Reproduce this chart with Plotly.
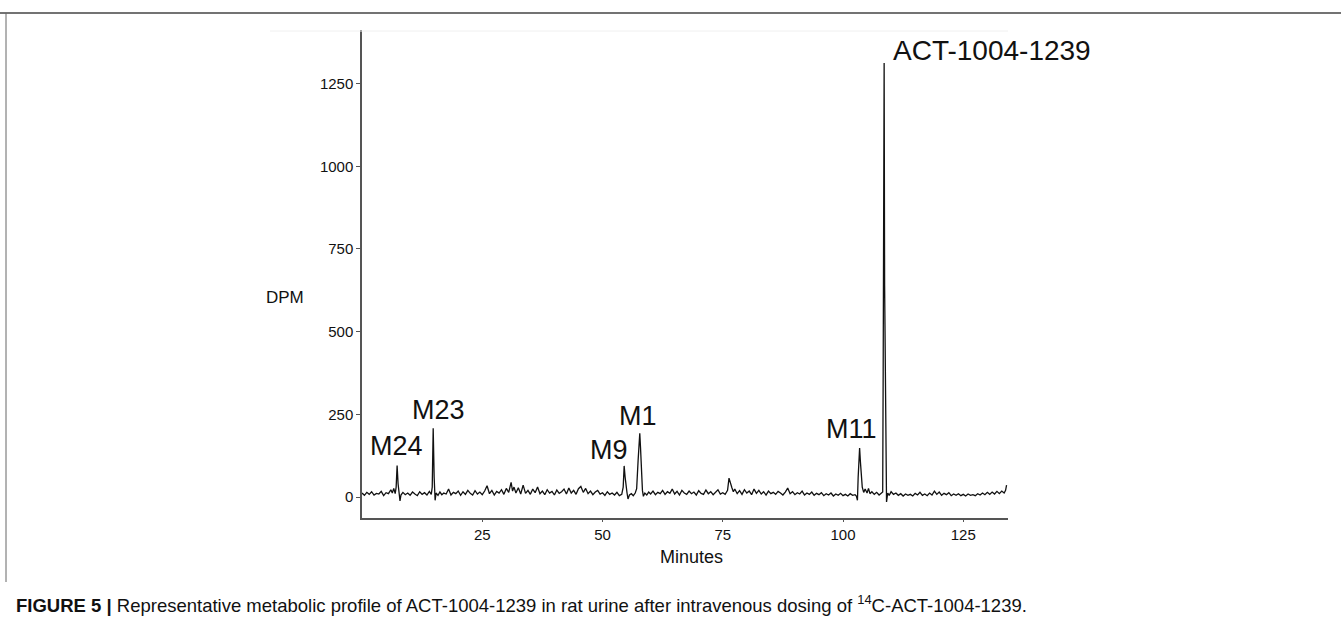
import plotly.graph_objects as go

# ---- data ----
time_min = [
    0.0, 0.5, 1.0, 1.5, 2.0, 2.5, 3.0, 3.5, 4.0, 4.5, 5.0, 5.5, 6.0, 6.3, 6.6, 6.9, 7.1, 7.3, 7.5, 7.7, 7.9, 8.1, 8.5, 9.0, 9.5,
    10.0, 10.5, 11.0, 11.5, 12.0, 12.5, 13.0, 13.5, 14.0, 14.4, 14.6, 14.8, 15.0, 15.2, 15.4, 15.8, 16.2, 16.6, 17.0, 17.5, 18.0, 18.5, 19.0, 19.5,
    20.0, 20.5, 21.0, 21.5, 22.0, 22.5, 23.0, 23.5, 24.0, 24.5, 25.0, 25.5, 26.0, 26.5, 27.0, 27.5, 28.0, 28.5, 29.0, 29.5,
    30.0, 30.5, 31.0, 31.3, 31.6, 32.0, 32.5, 33.0, 33.5, 34.0, 34.5, 35.0, 35.5, 36.0, 36.5, 37.0, 37.5, 38.0, 38.5, 39.0, 39.5,
    40.0, 40.5, 41.0, 41.5, 42.0, 42.5, 43.0, 43.5, 44.0, 44.5, 45.0, 45.5, 46.0, 46.5, 47.0, 47.5, 48.0, 48.5, 49.0, 49.5,
    50.0, 50.5, 51.0, 51.5, 52.0, 52.5, 53.0, 53.5, 54.0, 54.3, 54.5, 54.7, 54.9, 55.1, 55.3, 55.6, 56.0, 56.4, 56.8, 57.1, 57.4, 57.6, 57.75, 57.9,
    58.1, 58.3, 58.5, 58.8, 59.2, 59.6,
    60.0, 60.5, 61.0, 61.5, 62.0, 62.5, 63.0, 63.5, 64.0, 64.5, 65.0, 65.5, 66.0, 66.5, 67.0, 67.5, 68.0, 68.5, 69.0, 69.5,
    70.0, 70.5, 71.0, 71.5, 72.0, 72.5, 73.0, 73.5, 74.0, 74.5, 75.0, 75.5, 76.0, 76.3, 76.6, 76.9, 77.2, 77.5, 78.0, 78.5, 79.0, 79.5,
    80.0, 80.5, 81.0, 81.5, 82.0, 82.5, 83.0, 83.5, 84.0, 84.5, 85.0, 85.5, 86.0, 86.5, 87.0, 87.5, 88.0, 88.5, 89.0, 89.5,
    90.0, 90.5, 91.0, 91.5, 92.0, 92.5, 93.0, 93.5, 94.0, 94.5, 95.0, 95.5, 96.0, 96.5, 97.0, 97.5, 98.0, 98.5, 99.0, 99.5,
    100.0, 100.5, 101.0, 101.5, 102.0, 102.5, 102.8, 103.0, 103.15, 103.3, 103.45, 103.6, 103.8, 104.0, 104.3, 104.6, 105.0, 105.3, 105.6,
    106.0, 106.5, 107.0, 107.5, 108.0, 108.25, 108.35, 108.45, 108.55, 108.65, 108.75, 108.9, 109.05, 109.3, 109.6,
    110.0, 110.5, 111.0, 111.5, 112.0, 112.5, 113.0, 113.5, 114.0, 114.5, 115.0, 115.5, 116.0, 116.5, 117.0, 117.5, 118.0, 118.5, 119.0, 119.5,
    120.0, 120.5, 121.0, 121.5, 122.0, 122.5, 123.0, 123.5, 124.0, 124.5, 125.0, 125.5, 126.0, 126.5, 127.0, 127.5, 128.0, 128.5, 129.0, 129.5,
    130.0, 130.5, 131.0, 131.5, 132.0, 132.5, 133.0, 133.5, 133.8, 134.0,
]
dpm = [
    12, 5, 14, 8, 16, 6, 11, 9, 17, 4, 13, 10, 22, 12, 26, 10, 30, 95, 40, 5, -12, 6, 14, 7, 12,
    5, 15, 9, 4, 16, 8, 13, 6, 17, 8, 30, 208, 60, -10, 12, 5, 15, 7, 12, 9, 24, 6, 14, 10,
    18, 5, 16, 8, 20, 11, 6, 19, 9, 15, 7, 18, 34, 10, 20, 6, 17, 12, 22, 8,
    26, 14, 44, 18, 30, 12, 28, 9, 36, 11, 20, 8, 24, 13, 30, 10, 18, 7, 22, 12, 17,
    6, 21, 11, 16, 24, 9, 27, 12, 20, 8, 25, 32, 14, 26, 10, 18, 7, 15, 20, 9,
    13, 5, 16, 8, 12, 6, 14, 4, 8, 30, 94, 60, 30, 12, -6, 6, 10, 4, 12, 25, 110, 175, 193, 150,
    70, 20, 2, 12, 6, 15,
    9, 18, 7, 14, 10, 20, 8, 16, 11, 24, 9, 17, 6, 20, 12, 8, 18, 10, 15, 6,
    19, 11, 8, 21, 10, 16, 7, 14, 22, 9, 13, 8, 20, 57, 38, 28, 16, 24, 10, 19, 8, 22,
    12, 18, 7, 24, 11, 20, 9, 16, 6, 18, 10, 14, 8, 17, 12, 6, 15, 27, 10, 16,
    7, 13, 9, 18, 6, 12, 8, 15, 5, 11, 7, 13, 4, 10, 6, 12, 3, 9, 5, 11,
    4, 8, 3, 10, 5, 7, 2, -10, 60, 120, 148, 110, 60, 30, 14, 24, 12, 26, 10,
    16, 8, 14, 6, 12, 15, 380, 650, 1312, 640, 390, 40, -15, 12, 5,
    16, 8, 12, 5, 10, 3, 9, 5, 8, 3, 11, 6, 14, 5, 9, 4, 12, 6, 18, 8,
    15, 5, 11, 7, 13, 4, 9, 5, 10, 4, 8, 3, 9, 5, 7, 4, 10, 6, 12, 7,
    14, 8, 15, 9, 17, 10, 18, 12, 20, 36,
]

peak_labels = ["M24", "M23", "M9", "M1", "M11", "ACT-1004-1239"]
peak_time = [7.3, 14.8, 54.5, 57.75, 103.45, 108.55]
peak_dpm = [95, 208, 94, 193, 148, 1312]

x_ticks = [25, 50, 75, 100, 125]
y_ticks = [0, 250, 500, 750, 1000, 1250]

# ---- styling / layout ----
W, H = 1341, 625
FONT = "Liberation Sans, Arial, Helvetica, sans-serif"
AX = "#555555"

fig = go.Figure()
fig.add_trace(go.Scatter(x=time_min, y=dpm, mode="lines",
                         line=dict(color="#111111", width=1.3),
                         hoverinfo="x+y", showlegend=False))

# label offsets in pixels (dx, dy) relative to the peak apex, label centred
offsets = [(-1, 20), (5, 18), (-15, 16), (-2, 17), (-8, 19), (108, 13)]
sizes = [27, 27, 27, 27, 27, 28]
for lab, t, v, (dx, dy), sz in zip(peak_labels, peak_time, peak_dpm, offsets, sizes):
    fig.add_annotation(x=t, y=v, xref="x", yref="y", text=lab, showarrow=False,
                       xanchor="center", yanchor="middle", xshift=dx, yshift=dy,
                       font=dict(family=FONT, size=sz, color="#111111"))

# axis titles
fig.add_annotation(x=285 / W, y=1 - 297 / H, xref="paper", yref="paper", text="DPM",
                   showarrow=False, xanchor="center", yanchor="middle",
                   font=dict(family=FONT, size=17, color="#111111"))
fig.add_annotation(x=691 / W, y=1 - 557 / H, xref="paper", yref="paper", text="Minutes",
                   showarrow=False, xanchor="center", yanchor="middle",
                   font=dict(family=FONT, size=18, color="#111111"))

# caption
fig.add_annotation(x=14 / W, y=1 - 604 / H, xref="paper", yref="paper",
                   text=("<b>FIGURE 5 |</b> Representative metabolic profile of ACT-1004-1239 in rat urine "
                         "after intravenous dosing of <sup>14</sup>C-ACT-1004-1239."),
                   showarrow=False, xanchor="left", yanchor="middle",
                   font=dict(family=FONT, size=18.5, color="#111111"))

# frame lines
fig.add_shape(type="line", xref="paper", yref="paper", x0=0, x1=1, y0=1 - 13 / H, y1=1 - 13 / H,
              line=dict(color="#444444", width=1.5))
fig.add_shape(type="line", xref="paper", yref="paper", x0=6 / W, x1=6 / W, y0=1 - 13 / H, y1=1 - 582 / H,
              line=dict(color="#666666", width=1))
fig.add_shape(type="line", xref="paper", yref="paper", x0=270 / W, x1=1008 / W, y0=1 - 31 / H, y1=1 - 31 / H,
              line=dict(color="#f0f0f0", width=1))

fig.update_layout(
    width=W, height=H, margin=dict(l=0, r=0, t=0, b=0),
    paper_bgcolor="white", plot_bgcolor="white", showlegend=False,
    font=dict(family=FONT, color="#111111"),
    xaxis=dict(domain=[362 / W, 1008 / W], range=[0, 134.3], tickvals=x_ticks,
               showline=True, linecolor=AX, linewidth=1.5, ticks="outside", ticklen=2,
               tickcolor=AX, showgrid=False, zeroline=False,
               tickfont=dict(family=FONT, size=15, color="#111111")),
    yaxis=dict(domain=[1 - 518 / H, 1 - 30 / H], range=[-63.5, 1412], tickvals=y_ticks,
               showline=True, linecolor=AX, linewidth=1.5, ticks="outside", ticklen=4,
               tickcolor=AX, showgrid=False, zeroline=False,
               tickfont=dict(family=FONT, size=15, color="#111111")),
)

fig.write_html("out.html")
